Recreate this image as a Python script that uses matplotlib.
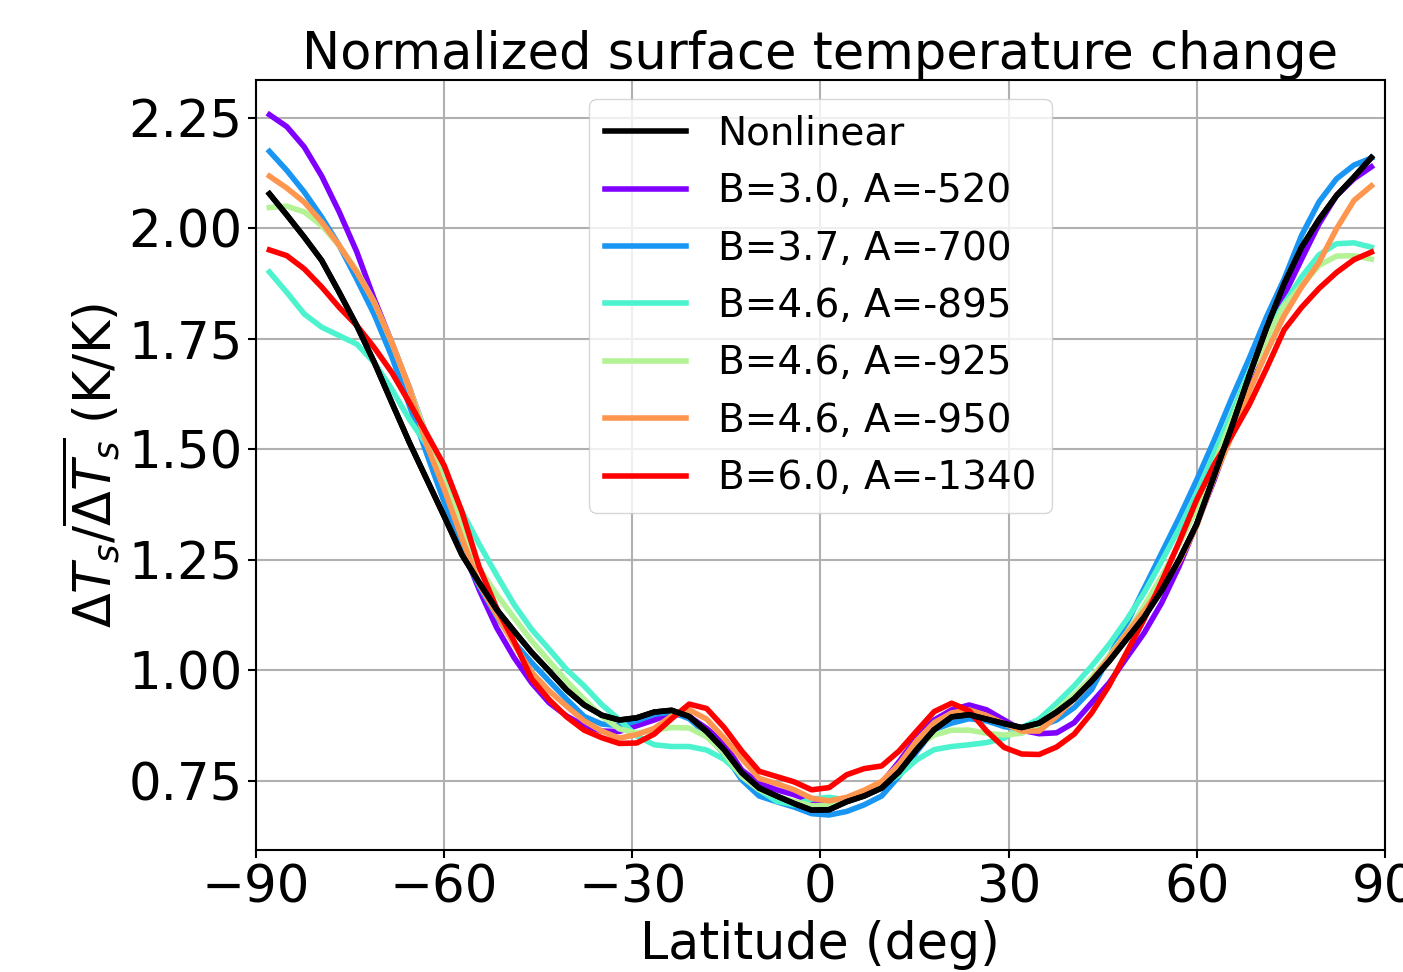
import numpy as np
import matplotlib
matplotlib.use('Agg')
import matplotlib.pyplot as plt

# Gaussian latitudes of a 64-point grid (T42)
lat = np.degrees(np.arcsin(np.polynomial.legendre.leggauss(64)[0]))

nonlinear = [2.078, 2.03, 1.98, 1.927, 1.855, 1.78, 1.697, 1.606, 1.516, 1.432,
             1.348, 1.262, 1.198, 1.137, 1.088, 1.04, 0.998, 0.955, 0.921, 0.898,
             0.887, 0.892, 0.905, 0.909, 0.895, 0.861, 0.82, 0.768, 0.733, 0.715,
             0.698, 0.683, 0.684, 0.702, 0.715, 0.733, 0.77, 0.82, 0.865, 0.894,
             0.899, 0.889, 0.879, 0.87, 0.88, 0.905, 0.935, 0.975, 1.02, 1.07,
             1.12, 1.18, 1.25, 1.33, 1.44, 1.55, 1.666, 1.775, 1.874, 1.957,
             2.02, 2.074, 2.116, 2.16]

b30_a520 = [2.257, 2.23, 2.184, 2.118, 2.037, 1.947, 1.84, 1.742, 1.64, 1.53,
            1.39, 1.28, 1.182, 1.096, 1.028, 0.971, 0.926, 0.896, 0.874, 0.862,
            0.861, 0.874, 0.887, 0.902, 0.895, 0.868, 0.834, 0.774, 0.744, 0.729,
            0.718, 0.703, 0.695, 0.71, 0.725, 0.744, 0.793, 0.846, 0.887, 0.91,
            0.921, 0.91, 0.887, 0.864, 0.856, 0.858, 0.881, 0.926, 0.971, 1.028,
            1.084, 1.152, 1.235, 1.33, 1.43, 1.54, 1.655, 1.765, 1.848, 1.93,
            2.01, 2.074, 2.112, 2.139]

b37_a700 = [2.174, 2.131, 2.082, 2.025, 1.961, 1.885, 1.805, 1.71, 1.60, 1.49,
            1.38, 1.275, 1.19, 1.122, 1.062, 1.017, 0.975, 0.934, 0.895, 0.878,
            0.874, 0.885, 0.9, 0.905, 0.89, 0.855, 0.81, 0.752, 0.715, 0.702,
            0.69, 0.675, 0.672, 0.68, 0.695, 0.715, 0.76, 0.815, 0.865, 0.88,
            0.89, 0.885, 0.872, 0.867, 0.872, 0.887, 0.915, 0.956, 1.03, 1.105,
            1.185, 1.265, 1.345, 1.43, 1.52, 1.615, 1.705, 1.80, 1.885, 1.984,
            2.06, 2.112, 2.143, 2.159]

b46_a895 = [1.901, 1.855, 1.806, 1.776, 1.757, 1.738, 1.696, 1.636, 1.568, 1.51,
            1.44, 1.36, 1.285, 1.215, 1.148, 1.092, 1.047, 1.001, 0.964, 0.922,
            0.888, 0.851, 0.831, 0.827, 0.827, 0.819, 0.798, 0.763, 0.729, 0.703,
            0.695, 0.708, 0.712, 0.706, 0.715, 0.74, 0.762, 0.797, 0.82, 0.827,
            0.831, 0.836, 0.846, 0.87, 0.889, 0.925, 0.964, 1.009, 1.058, 1.114,
            1.175, 1.246, 1.32, 1.40, 1.49, 1.58, 1.675, 1.765, 1.829, 1.89,
            1.94, 1.965, 1.967, 1.957]

b46_a925 = [2.047, 2.05, 2.037, 2.006, 1.961, 1.904, 1.833, 1.742, 1.64, 1.53,
            1.425, 1.33, 1.231, 1.171, 1.118, 1.066, 1.02, 0.975, 0.934, 0.896,
            0.867, 0.857, 0.864, 0.87, 0.869, 0.849, 0.812, 0.759, 0.729, 0.714,
            0.703, 0.693, 0.694, 0.705, 0.718, 0.744, 0.785, 0.827, 0.853, 0.864,
            0.864, 0.857, 0.853, 0.857, 0.877, 0.91, 0.944, 0.983, 1.032, 1.084,
            1.145, 1.212, 1.285, 1.365, 1.465, 1.565, 1.665, 1.75, 1.825, 1.87,
            1.916, 1.937, 1.938, 1.93]

b46_a950 = [2.118, 2.091, 2.059, 2.014, 1.961, 1.901, 1.833, 1.742, 1.64, 1.51,
            1.41, 1.30, 1.195, 1.125, 1.058, 0.995, 0.953, 0.918, 0.885, 0.862,
            0.846, 0.854, 0.868, 0.896, 0.91, 0.889, 0.846, 0.8, 0.755, 0.743,
            0.729, 0.71, 0.704, 0.712, 0.728, 0.748, 0.787, 0.84, 0.881, 0.903,
            0.91, 0.897, 0.879, 0.862, 0.862, 0.895, 0.935, 0.977, 1.028, 1.083,
            1.134, 1.189, 1.245, 1.326, 1.435, 1.53, 1.63, 1.72, 1.802, 1.867,
            1.923, 1.999, 2.063, 2.096]

b60_a1340 = [1.951, 1.938, 1.908, 1.867, 1.821, 1.78, 1.73, 1.674, 1.606, 1.535,
             1.463, 1.36, 1.233, 1.14, 1.065, 0.98, 0.933, 0.894, 0.864, 0.847,
             0.834, 0.835, 0.855, 0.89, 0.923, 0.913, 0.87, 0.817, 0.771, 0.759,
             0.747, 0.729, 0.734, 0.763, 0.777, 0.783, 0.817, 0.862, 0.906, 0.925,
             0.908, 0.862, 0.825, 0.81, 0.809, 0.826, 0.855, 0.903, 0.965, 1.04,
             1.115, 1.2, 1.29, 1.385, 1.465, 1.53, 1.6, 1.683, 1.77, 1.821,
             1.864, 1.9, 1.929, 1.946]

linear_runs = [b30_a520, b37_a700, b46_a895, b46_a925, b46_a950, b60_a1340]
linear_labels = ['B=3.0, A=-520', 'B=3.7, A=-700', 'B=4.6, A=-895',
                 'B=4.6, A=-925', 'B=4.6, A=-950', 'B=6.0, A=-1340']
xticks = [-90, -60, -30, 0, 30, 60, 90]
yticks = [0.75, 1.0, 1.25, 1.5, 1.75, 2.0, 2.25]

colors = plt.cm.rainbow(np.linspace(0, 1, len(linear_runs)))

fig = plt.figure(figsize=(14.03, 9.72), dpi=100)
ax = fig.add_axes([0.1825, 0.1255, 0.8045, 0.7925])

ax.plot(lat, nonlinear, color='k', lw=4, label='Nonlinear', zorder=3)
for run, lab, c in zip(linear_runs, linear_labels, colors):
    ax.plot(lat, run, color=c, lw=4, label=lab)
# nonlinear on top, drawn again without legend entry
ax.plot(lat, nonlinear, color='k', lw=4, zorder=4)

ax.set_xlim(-90, 90)
ax.set_xticks(xticks)
ax.set_yticks(yticks)
ax.tick_params(labelsize=37, length=6, width=1.5)
for s in ax.spines.values():
    s.set_linewidth(1.5)
ax.grid(True, color='#b0b0b0', lw=1.5)

ax.set_title('Normalized surface temperature change', fontsize=36.7)
ax.set_xlabel('Latitude (deg)', fontsize=36.5, labelpad=5)
ax.set_ylabel(r'$\Delta T_s/\overline{\Delta T_s}$ (K/K)', fontsize=36.5)
ax.legend(loc='upper center', fontsize=28, handlelength=2.1)

fig.savefig('out.png', dpi=100)
